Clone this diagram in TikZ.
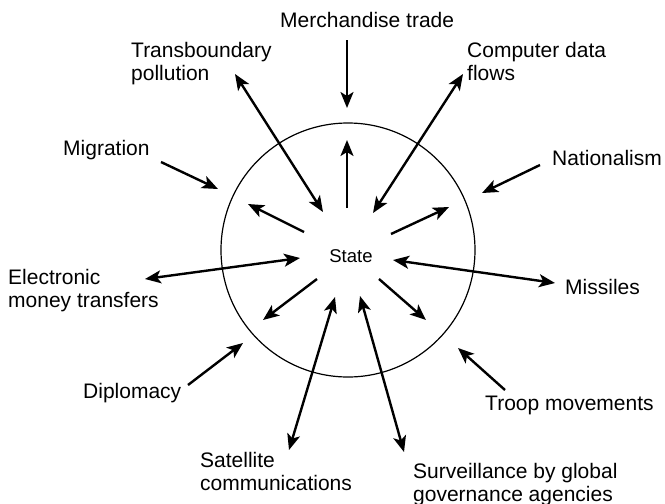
\documentclass[tikz,border=0pt]{standalone}
\usepackage{fontspec}
\setmainfont{Liberation Sans}
\usetikzlibrary{arrows.meta}
\begin{document}
\begin{tikzpicture}[x=1pt,y=-1pt,
 lbl/.style={font=\fontsize{21}{23}\selectfont, inner sep=0pt, anchor=base west, align=left},
 tipA/.tip={Stealth[length=16pt,width=13pt,inset=4pt]},
 arr/.style={line width=2.4pt, -tipA},
 darr/.style={line width=2.4pt, tipA-tipA},
]
\useasboundingbox (0,0) rectangle (665,504);
\node[circle, draw, line width=1.2pt, minimum size=254pt, inner sep=0pt] (circ) at (348,250) {};
\node[font=\fontsize{18.5}{22}\selectfont, inner sep=0pt, anchor=base] (state) at (351,262) {State};

% labels (multi-line: anchor at baseline of last line)
\node[lbl] (merch) at (280,27) {Merchandise trade};
\node[lbl] (trans) at (131,80) {Transboundary\\pollution};
\node[lbl] (comp) at (467,80) {Computer data\\flows};
\node[lbl] (migr) at (63,155) {Migration};
\node[lbl] (nat) at (552,165) {Nationalism};
\node[lbl] (elec) at (8,307) {Electronic\\money transfers};
\node[lbl] (miss) at (565,294) {Missiles};
\node[lbl] (dipl) at (83,398) {Diplomacy};
\node[lbl] (troop) at (485,410) {Troop movements};
\node[lbl] (sat) at (200,490) {Satellite\\communications};
\node[lbl] (surv) at (413,501) {Surveillance by global\\governance agencies};

% arrow end points
\coordinate (m1) at (347,40);  \coordinate (m2) at (347,108);
\coordinate (t1) at (235,74);  \coordinate (t2) at (323,212);
\coordinate (c1) at (463,74);  \coordinate (c2) at (373,213);
\coordinate (u1) at (347,208); \coordinate (u2) at (347,140);
\coordinate (ul1) at (304,232); \coordinate (ul2) at (248,204);
\coordinate (ur1) at (391,234); \coordinate (ur2) at (449,207);
\coordinate (e1) at (145,279); \coordinate (e2) at (300,258);
\coordinate (s1) at (393,260); \coordinate (s2) at (555,283);
\coordinate (g1) at (161,162); \coordinate (g2) at (218,189);
\coordinate (n1) at (540,165); \coordinate (n2) at (482,193);
\coordinate (ll1) at (317,279); \coordinate (ll2) at (263,320);
\coordinate (lr1) at (379,279); \coordinate (lr2) at (426,320);
\coordinate (sa1) at (335,297); \coordinate (sa2) at (289,450);
\coordinate (sv1) at (360,296); \coordinate (sv2) at (404,452);
\coordinate (d1) at (188,385); \coordinate (d2) at (243,343);
\coordinate (tr1) at (505,390); \coordinate (tr2) at (458,348);

\draw[arr] (m1) -- (m2);
\draw[darr] (t1) -- (t2);
\draw[darr] (c1) -- (c2);
\draw[arr] (u1) -- (u2);
\draw[arr] (ul1) -- (ul2);
\draw[arr] (ur1) -- (ur2);
\draw[darr] (e1) -- (e2);
\draw[darr] (s1) -- (s2);
\draw[arr] (g1) -- (g2);
\draw[arr] (n1) -- (n2);
\draw[arr] (ll1) -- (ll2);
\draw[arr] (lr1) -- (lr2);
\draw[darr] (sa1) -- (sa2);
\draw[darr] (sv1) -- (sv2);
\draw[arr] (d1) -- (d2);
\draw[arr] (tr1) -- (tr2);
\end{tikzpicture}
\end{document}
